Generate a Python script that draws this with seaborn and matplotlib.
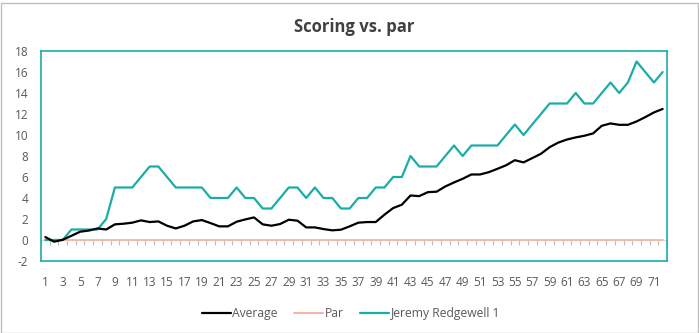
import numpy as np
import pandas as pd
import matplotlib
matplotlib.use("Agg")
import matplotlib.pyplot as plt
import seaborn as sns
from matplotlib.patches import Rectangle

holes = list(range(1, 73))
average = [0.28, -0.16, 0.02, 0.4, 0.79, 0.9, 1.1, 1.0, 1.49, 1.55,
           1.65, 1.87, 1.71, 1.77, 1.36, 1.1, 1.36, 1.77, 1.9, 1.61,
           1.3, 1.3, 1.74, 1.96, 2.15, 1.49, 1.36, 1.52, 1.93, 1.84,
           1.2, 1.2, 1.04, 0.92, 0.98, 1.3, 1.65, 1.71, 1.71, 2.41,
           3.04, 3.36, 4.24, 4.18, 4.56, 4.6, 5.1, 5.48, 5.83, 6.24,
           6.24, 6.46, 6.78, 7.12, 7.6, 7.39, 7.8, 8.21, 8.84, 9.28,
           9.57, 9.77, 9.93, 10.15, 10.88, 11.1, 10.97, 10.97, 11.29, 11.7,
           12.15, 12.48]
par = [0] * 72
jeremy = [0, 0, 0, 1, 1, 1, 1, 2, 5, 5,
          5, 6, 7, 7, 6, 5, 5, 5, 5, 4,
          4, 4, 5, 4, 4, 3, 3, 4, 5, 5,
          4, 5, 4, 4, 3, 3, 4, 4, 5, 5,
          6, 6, 8, 7, 7, 7, 8, 9, 8, 9,
          9, 9, 9, 10, 11, 10, 11, 12, 13, 13,
          13, 14, 13, 13, 14, 15, 14, 15, 17, 16,
          15, 16]
series_names = ["Average", "Par", "Jeremy Redgewell 1"]
y_ticks = list(range(-2, 19, 2))
x_tick_labels = list(range(1, 72, 2))

df = pd.DataFrame({
    "hole": holes * 3,
    "score": average + par + jeremy,
    "series": [series_names[0]] * 72 + [series_names[1]] * 72 + [series_names[2]] * 72,
})

TEAL = "#1AADA8"
palette = {"Average": "#000000", "Par": "#F5B7A5", "Jeremy Redgewell 1": TEAL}
GRAY = "#595959"

sns.set_theme(style="white")
plt.rcParams["font.family"] = ["Open Sans", "DejaVu Sans"]

fig = plt.figure(figsize=(6.99, 3.33), dpi=100)
ax = fig.add_axes([41 / 699, 1 - 261 / 333, (667 - 41) / 699, (261 - 51) / 333])

sns.lineplot(data=df, x="hole", y="score", hue="series", hue_order=series_names,
             palette=palette, ax=ax, legend=True, estimator=None)
for line, lw in zip(ax.get_lines(), [1.6, 1.3, 1.6]):
    line.set_linewidth(lw)
lines = ax.get_lines()
lines[1].set_zorder(1.5)
lines[0].set_zorder(3)
lines[2].set_zorder(2.5)

ax.set_xlim(0.5, 72.5)
ax.set_ylim(-2, 18)
ax.set_yticks(y_ticks)
ax.set_yticklabels([str(v) for v in y_ticks])
ax.tick_params(axis="y", length=0, pad=9, labelsize=8.5, labelcolor=GRAY)
ax.set_xticks(x_tick_labels)
ax.set_xticklabels([str(v) for v in x_tick_labels])
ax.tick_params(axis="x", length=0, pad=11, labelsize=8.5, labelcolor=GRAY)
ax.set_xlabel("")
ax.set_ylabel("")
for sp in ax.spines.values():
    sp.set_color(TEAL)
    sp.set_linewidth(1.2)

# category axis at y = 0 with tick marks between categories
sec = ax.secondary_xaxis(2 / 20)
sec.set_xticks([])
sec.set_xticks(np.arange(0.5, 73, 1), minor=True)
sec.tick_params(axis="x", which="minor", length=3.5, width=0.8, color="#BFBFBF", direction="out")
sec.spines["bottom"].set_color("#D9D9D9")
sec.spines["bottom"].set_linewidth(0.8)

ax.set_title("Scoring vs. par", fontsize=12, fontweight="bold", color="#404040", pad=14)

leg = ax.legend(loc="upper center", bbox_to_anchor=(0.495, -0.168), ncol=3, frameon=False,
                fontsize=8.7, handlelength=2.4, handletextpad=0.1, columnspacing=1.4)
for t in leg.get_texts():
    t.set_color(GRAY)
for h, lw in zip(leg.get_lines(), [1.6, 1.5, 1.6]):
    h.set_linewidth(lw)

fig.patches.append(Rectangle((0.5 / 699, 0.5 / 333), 1 - 2 / 699, 1 - 3 / 333,
                             transform=fig.transFigure, fill=False,
                             edgecolor="#BFBFBF", linewidth=1.0))

fig.savefig("out.png", dpi=100)
